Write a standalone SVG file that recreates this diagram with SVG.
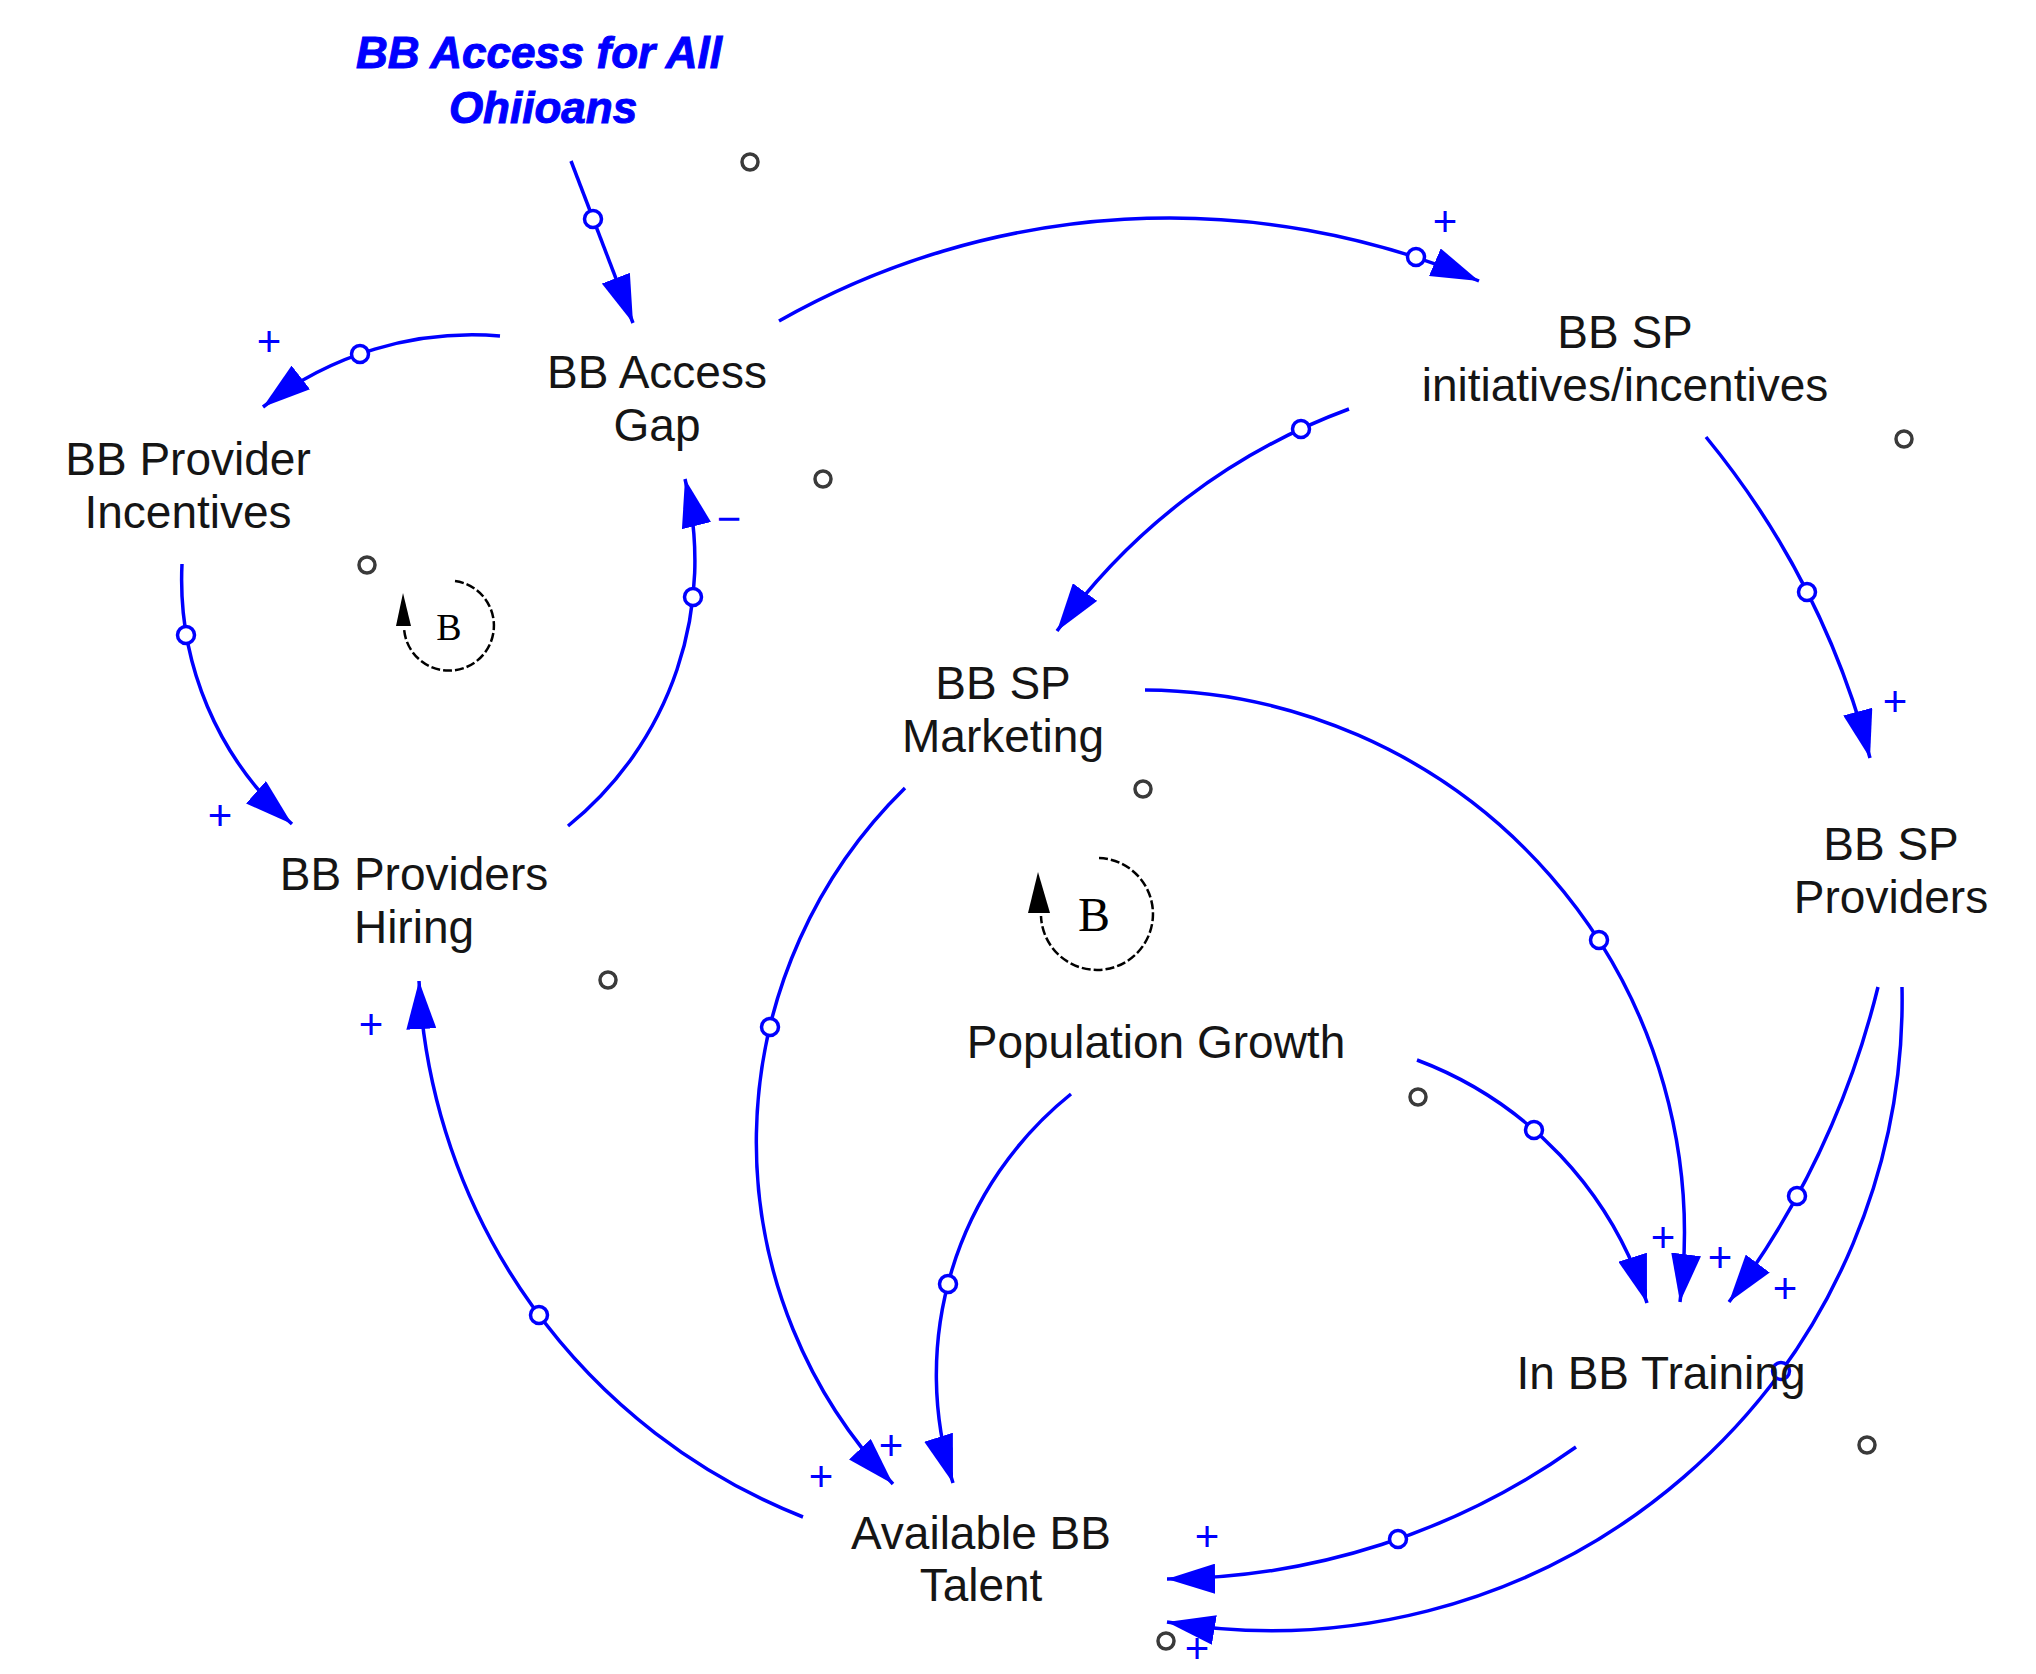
<svg xmlns="http://www.w3.org/2000/svg" width="2036" height="1674" viewBox="0 0 2036 1674">
<style>
.node{font-family:"Liberation Sans",Arial,sans-serif;font-size:46px;fill:#151515;text-anchor:middle}
.title{font-family:"Liberation Sans",Arial,sans-serif;font-size:44px;font-weight:bold;font-style:italic;fill:#0000ff;stroke:#0000ff;stroke-width:1;text-anchor:middle}
.link{fill:none;stroke:#0000ff;stroke-width:3.5}
.arr{marker-end:url(#ah)}
.lc{fill:#ffffff;stroke:#0000ff;stroke-width:3.5}
.hid{fill:none;stroke:#3a3a3a;stroke-width:3.5}
.pol{font-family:"Liberation Sans",Arial,sans-serif;font-size:42px;fill:#0000ff;text-anchor:middle}
.loop{fill:none;stroke:#000;stroke-width:2.5;stroke-dasharray:9 3}
.lb{font-family:"Liberation Serif","Times New Roman",serif;fill:#000;text-anchor:middle}
</style>
<defs>
<marker id="ah" markerUnits="userSpaceOnUse" viewBox="0 0 48 30" markerWidth="48" markerHeight="30" refX="48" refY="15" orient="auto">
<path d="M0,0 L48,15 L0,30 z" fill="#0000ff"/>
</marker>
</defs>
<rect width="2036" height="1674" fill="#ffffff"/>

<g id="connectors">
<path id="c1" class="link arr" d="M571,161 L633,323"/>
<path id="c2" class="link arr" d="M500,336 A340,340 0 0 0 263,407"/>
<path id="c3" class="link arr" d="M779,321 A792,792 0 0 1 1479,281"/>
<path id="c4" class="link arr" d="M1349,409 A626,626 0 0 0 1057,631"/>
<path id="c5" class="link arr" d="M1706,437 A846,846 0 0 1 1870,758"/>
<path id="c6" class="link arr" d="M1145,690 A543,543 0 0 1 1680,1302"/>
<path id="c7" class="link arr" d="M905,788 A496,496 0 0 0 893,1484"/>
<path id="c8" class="link arr" d="M1071,1094 A360,360 0 0 0 953,1483"/>
<path id="c9" class="link arr" d="M803,1517 A608,608 0 0 1 419,981"/>
<path id="c10" class="link arr" d="M182,564 A326,326 0 0 0 292,824"/>
<path id="c11" class="link arr" d="M568,826 A341,341 0 0 0 685,479"/>
<path id="c12" class="link arr" d="M1417,1060 A382,382 0 0 1 1647,1303"/>
<path id="c13" class="link arr" d="M1878,987 A874,874 0 0 1 1729,1302"/>
<path id="c14" class="link arr" d="M1902,987 A631,631 0 0 1 1167,1622"/>
<path id="c15" class="link arr" d="M1576,1447 A714,714 0 0 1 1167,1579"/>
<circle class="lc" cx="593" cy="219" r="8.5"/>
<circle class="lc" cx="360" cy="354" r="8.5"/>
<circle class="lc" cx="1416" cy="257" r="8.5"/>
<circle class="lc" cx="1301" cy="429" r="8.5"/>
<circle class="lc" cx="1807" cy="592" r="8.5"/>
<circle class="lc" cx="1599" cy="940" r="8.5"/>
<circle class="lc" cx="770" cy="1027" r="8.5"/>
<circle class="lc" cx="948" cy="1284" r="8.5"/>
<circle class="lc" cx="539" cy="1315" r="8.5"/>
<circle class="lc" cx="186" cy="635" r="8.5"/>
<circle class="lc" cx="693" cy="597" r="8.5"/>
<circle class="lc" cx="1534" cy="1130" r="8.5"/>
<circle class="lc" cx="1797" cy="1196" r="8.5"/>
<circle class="lc" cx="1781" cy="1371" r="8.5"/>
<circle class="lc" cx="1398" cy="1539" r="8.5"/>
<g id="polarities">
<text class="pol" x="269" y="356">+</text>
<text class="pol" x="1445" y="236">+</text>
<text class="pol" x="1895" y="716">+</text>
<text class="pol" x="220" y="830">+</text>
<text class="pol" x="371" y="1039">+</text>
<text class="pol" x="1663" y="1252">+</text>
<text class="pol" x="1720" y="1272">+</text>
<text class="pol" x="1785" y="1303">+</text>
<text class="pol" x="891" y="1460">+</text>
<text class="pol" x="821" y="1491">+</text>
<text class="pol" x="1207" y="1551">+</text>
<text class="pol" x="1197" y="1663">+</text>
<text class="pol" x="729" y="533">−</text>
</g>
</g>

<g id="hidden-markers">
<circle class="hid" cx="750" cy="162" r="8"/>
<circle class="hid" cx="823" cy="479" r="8"/>
<circle class="hid" cx="367" cy="565" r="8"/>
<circle class="hid" cx="1904" cy="439" r="8"/>
<circle class="hid" cx="1143" cy="789" r="8"/>
<circle class="hid" cx="608" cy="980" r="8"/>
<circle class="hid" cx="1418" cy="1097" r="8"/>
<circle class="hid" cx="1867" cy="1445" r="8"/>
<circle class="hid" cx="1166" cy="1641" r="8"/>
</g>

<g id="loop1">
<path class="loop" d="M455,581 A45,45 0 1 1 404,628"/>
<path d="M403,593 L396,626 L411,626 z" fill="#000"/>
<text class="lb" x="449" y="640" font-size="38">B</text>
</g>
<g id="loop2">
<path class="loop" d="M1099,858 A56,56 0 1 1 1041,916"/>
<path d="M1038,872 L1028,913 L1050,913 z" fill="#000"/>
<text class="lb" x="1094" y="931" font-size="48">B</text>
</g>

<g id="n-bb-access-all">
<text class="title" x="539" y="68">BB Access for All</text>
<text class="title" x="543" y="123">Ohiioans</text>
</g>
<g id="n-access-gap">
<text class="node" x="657" y="388">BB Access</text>
<text class="node" x="657" y="441">Gap</text>
</g>
<g id="n-provider-incentives">
<text class="node" x="188" y="475">BB Provider</text>
<text class="node" x="188" y="528">Incentives</text>
</g>
<g id="n-sp-initiatives">
<text class="node" x="1625" y="348">BB SP</text>
<text class="node" x="1625" y="401">initiatives/incentives</text>
</g>
<g id="n-sp-marketing">
<text class="node" x="1003" y="699">BB SP</text>
<text class="node" x="1003" y="752">Marketing</text>
</g>
<g id="n-providers-hiring">
<text class="node" x="414" y="890">BB Providers</text>
<text class="node" x="414" y="943">Hiring</text>
</g>
<g id="n-sp-providers">
<text class="node" x="1891" y="860">BB SP</text>
<text class="node" x="1891" y="913">Providers</text>
</g>
<g id="n-population-growth">
<text class="node" x="1156" y="1058">Population Growth</text>
</g>
<g id="n-in-training">
<text class="node" x="1661" y="1389">In BB Training</text>
</g>
<g id="n-available-talent">
<text class="node" x="981" y="1549">Available BB</text>
<text class="node" x="981" y="1601">Talent</text>
</g>
</svg>
